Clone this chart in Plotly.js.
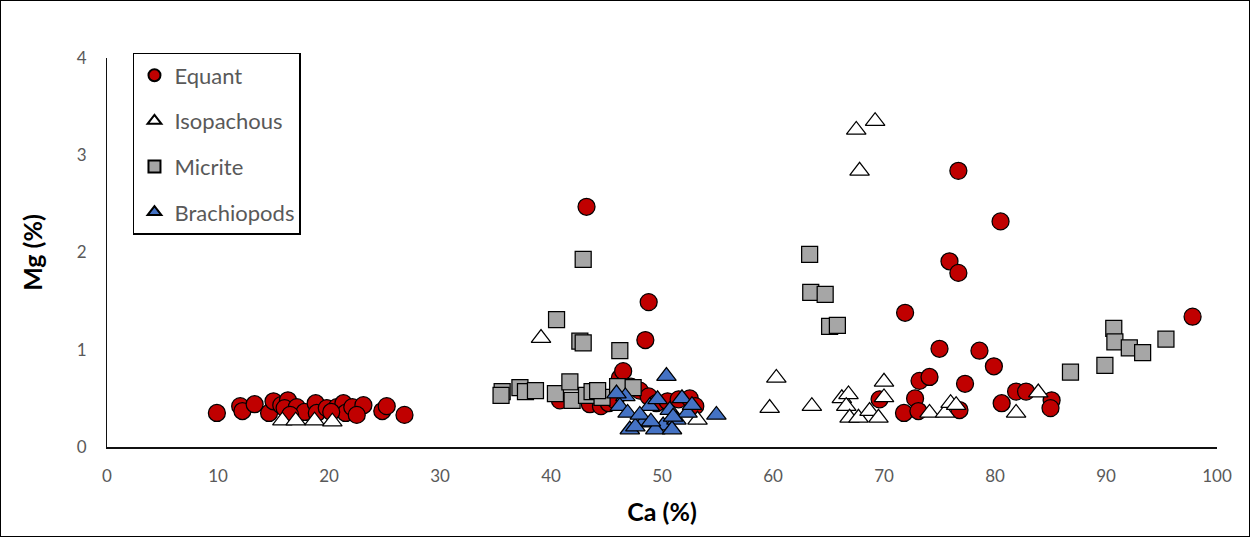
<!DOCTYPE html>
<html>
<head>
<meta charset="utf-8">
<script src="https://cdn.plot.ly/plotly-3.0.1.min.js"></script>
<style>
html,body{margin:0;padding:0;background:#fff;}
#wrap{position:absolute;left:0;top:0;width:1250px;height:537px;box-sizing:border-box;border:1px solid #000;background:#fff;}
#chart{position:absolute;left:0;top:0;width:1248px;height:535px;}
</style>
</head>
<body>
<div id="wrap"><div id="chart"></div></div>
<script>
// Equant
const equantCa = [9.9,12.0,12.2,13.3,14.6,15.0,15.7,16.3,16.0,17.1,17.8,18.8,18.9,19.8,20.7,21.3,21.5,22.1,23.1,22.5,24.8,25.2,26.8,16.5,20.2,
  40.8,43.5,44.5,45.2,45.8,46.2,46.5,47.2,48.0,48.8,49.5,50.5,51.5,52.5,53.0,48.5,48.8,43.2,
  69.6,71.8,72.8,73.1,73.2,74.1,75.0,75.9,76.7,76.7,76.8,77.3,78.6,79.9,80.5,80.6,81.9,82.8,85.1,85.0,71.9,97.8];
const equantMg = [0.35,0.42,0.37,0.44,0.35,0.47,0.43,0.48,0.40,0.41,0.36,0.45,0.35,0.40,0.41,0.45,0.35,0.41,0.43,0.33,0.37,0.42,0.33,0.33,0.36,
  0.48,0.44,0.42,0.45,0.48,0.71,0.78,0.62,0.58,0.52,0.45,0.47,0.49,0.50,0.42,1.10,1.49,2.47,
  0.49,0.35,0.50,0.37,0.68,0.72,1.01,1.91,2.84,1.79,0.38,0.65,0.99,0.83,2.32,0.45,0.57,0.57,0.48,0.40,1.38,1.34];
// Isopachous
const isoCa = [15.8,17.0,18.7,20.3,39.1,53.2,59.7,60.3,63.5,66.2,66.8,66.6,66.9,67.7,68.7,69.5,70.0,70.0,74.1,75.5,76.0,76.5,81.9,83.9,67.5,69.2,67.8];
const isoMg = [0.27,0.27,0.27,0.26,1.12,0.28,0.40,0.71,0.42,0.50,0.54,0.42,0.30,0.30,0.37,0.30,0.67,0.51,0.35,0.35,0.45,0.43,0.35,0.56,3.26,3.35,2.84];
// Micrite
const micCa = [35.6,35.5,37.2,37.7,38.6,40.4,41.7,41.9,43.2,43.7,44.6,44.2,46.0,47.4,40.5,42.6,42.9,42.9,46.2,63.3,63.4,64.7,65.1,65.8,86.8,89.9,90.7,90.8,92.1,93.3,95.4];
const micMg = [0.57,0.53,0.61,0.57,0.58,0.55,0.67,0.48,0.53,0.57,0.51,0.58,0.62,0.61,1.31,1.09,1.07,1.93,0.99,1.98,1.59,1.57,1.24,1.25,0.77,0.84,1.22,1.08,1.02,0.97,1.11];
// Brachiopods
const brachCa = [50.4,54.9,46.7,46.2,46.9,47.1,48.3,48.9,49.6,50.1,50.7,51.3,51.8,52.3,52.7,49.4,50.9,47.6,45.9,48.0,51.0,49.0];
const brachMg = [0.73,0.33,0.52,0.42,0.35,0.18,0.25,0.42,0.49,0.22,0.38,0.28,0.50,0.35,0.43,0.18,0.18,0.21,0.55,0.33,0.31,0.26];

const xTicks = [0,10,20,30,40,50,60,70,80,90,100];
const yTicks = [0,1,2,3,4];

const ln = {color:'#000', width:1.25};
function tr(name, x, y, symbol, color, size){
  return {type:'scatter', mode:'markers', name:name, x:x, y:y, legendgroup:name,
    marker:{symbol:symbol, color:color, size:size, line:ln}, cliponaxis:false};
}
const data = [
  tr('Equant', equantCa, equantMg, 'circle', '#C00000', 17),
  tr('Isopachous', isoCa, isoMg, 'triangle-up', '#FFFFFF', 17),
  tr('Micrite', micCa, micMg, 'square', '#A6A6A6', 16),
  tr('Brachiopods', brachCa, brachMg, 'triangle-up', '#4472C4', 17)
];
const FF = 'Lato, "Open Sans", sans-serif';
const tickFont = {family:FF, size:17, color:'#595959'};
const layout = {
  width:1248, height:535,
  margin:{l:106, r:32, t:57, b:89},
  paper_bgcolor:'#fff', plot_bgcolor:'#fff',
  showlegend:true,
  legend:{x:0.0234, y:1.013, xanchor:'left', yanchor:'top', bgcolor:'#fff',
    bordercolor:'#000', borderwidth:1.5, itemsizing:'constant', tracegroupgap:14,
    font:{family:FF, size:22, color:'#595959'}},
  xaxis:{range:[0,100], tickvals:xTicks, ticktext:xTicks.map(String), showgrid:false, zeroline:false,
    showline:true, linecolor:'#111', linewidth:2, ticks:'', tickfont:tickFont, ticklabelstandoff:13,
    title:{text:'Ca (%)', font:{family:FF, size:25, color:'#000', weight:'bold'}, standoff:18}},
  yaxis:{range:[0,4], tickvals:yTicks, ticktext:yTicks.map(String), showgrid:false, zeroline:false,
    showline:true, linecolor:'#111', linewidth:1, ticks:'', tickfont:tickFont, ticklabelstandoff:16,
    title:{text:'Mg (%)', font:{family:FF, size:25, color:'#000', weight:'bold'}, standoff:26}}
};
Plotly.newPlot('chart', data, layout, {displayModeBar:false, staticPlot:true});
</script>
</body>
</html>
